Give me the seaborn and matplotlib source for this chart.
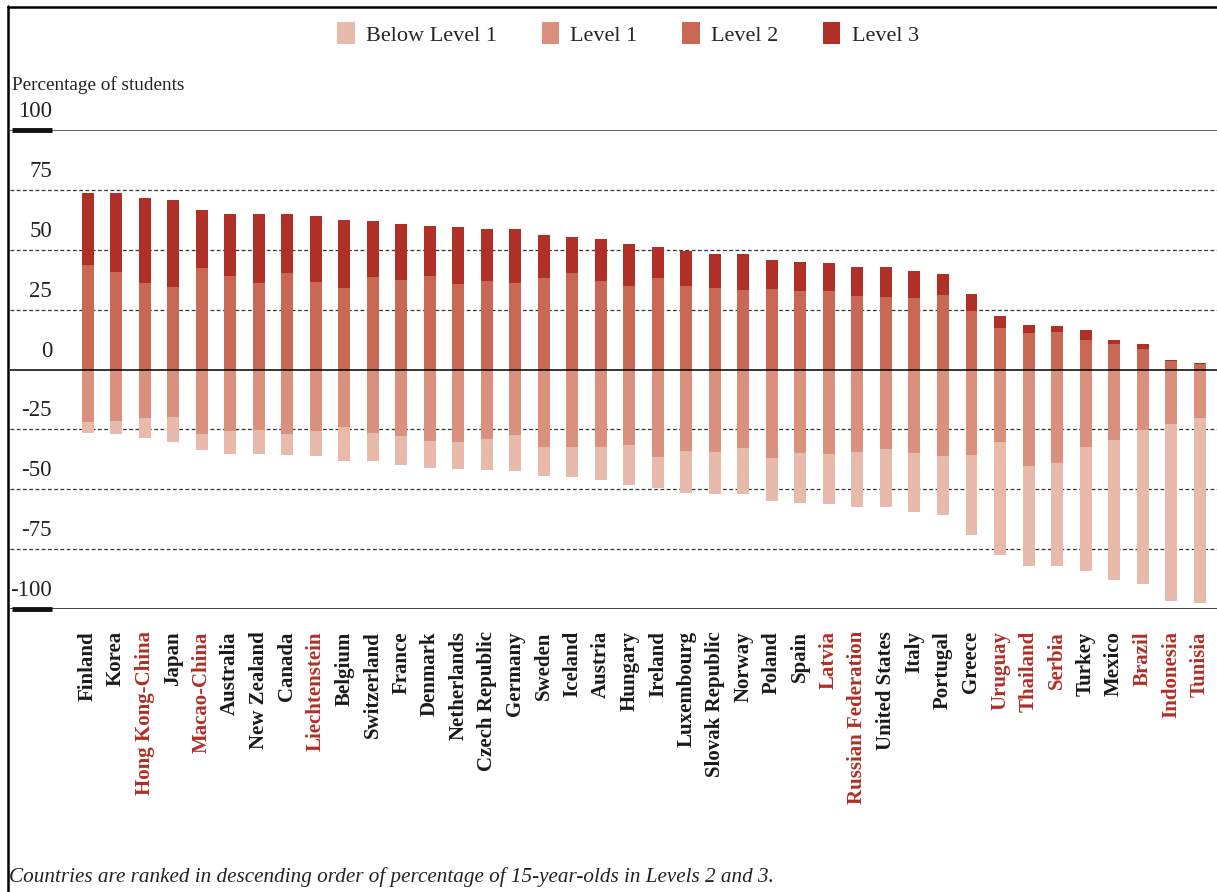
import numpy as np
import pandas as pd
import matplotlib
matplotlib.use("Agg")
import matplotlib.pyplot as plt
from matplotlib.patches import Patch
from matplotlib.lines import Line2D
import matplotlib.transforms as mtransforms
import seaborn as sns

countries = ["Finland", "Korea", "Hong Kong-China", "Japan", "Macao-China", "Australia",
             "New Zealand", "Canada", "Liechtenstein", "Belgium", "Switzerland", "France",
             "Denmark", "Netherlands", "Czech Republic", "Germany", "Sweden", "Iceland",
             "Austria", "Hungary", "Ireland", "Luxembourg", "Slovak Republic", "Norway",
             "Poland", "Spain", "Latvia", "Russian Federation", "United States", "Italy",
             "Portugal", "Greece", "Uruguay", "Thailand", "Serbia", "Turkey", "Mexico",
             "Brazil", "Indonesia", "Tunisia"]
partners = ["Hong Kong-China", "Macao-China", "Liechtenstein", "Latvia", "Russian Federation",
            "Uruguay", "Thailand", "Serbia", "Brazil", "Indonesia", "Tunisia"]

# percentages
level3 = [30.2, 33.2, 35.5, 36.0, 24.3, 26.1, 28.9, 24.9, 27.5, 28.6, 23.5, 23.2,
          20.9, 23.5, 21.5, 22.4, 18.1, 15.1, 17.8, 17.2, 12.8, 14.7, 14.3, 15.1,
          12.3, 12.1, 12.0, 12.2, 12.6, 11.1, 8.7, 7.4, 5.0, 3.2, 2.4, 4.3, 1.8,
          2.0, 0.3, 0.6]
level2 = [43.5, 40.6, 36.2, 34.6, 42.2, 38.9, 36.1, 40.1, 36.7, 33.9, 38.6, 37.4,
          39.0, 35.8, 37.1, 36.2, 38.2, 40.3, 36.8, 35.0, 38.2, 34.7, 33.9, 33.1,
          33.5, 32.6, 32.6, 30.7, 30.3, 29.9, 31.0, 24.3, 17.5, 15.4, 15.8, 12.2, 10.7,
          8.6, 3.5, 2.3]
level1 = [21.8, 21.4, 20.1, 19.7, 27.1, 25.8, 25.1, 26.9, 25.8, 24.0, 26.5, 27.8,
          29.9, 30.3, 29.0, 27.4, 32.2, 32.2, 32.2, 31.4, 36.5, 33.9, 34.3, 32.6,
          36.9, 35.0, 35.3, 34.3, 33.3, 34.7, 36.1, 35.7, 30.3, 40.1, 39.0, 32.2, 29.4,
          25.3, 22.6, 20.1]
below1 = [4.6, 5.4, 8.4, 10.4, 6.7, 9.5, 10.2, 8.8, 10.3, 14.1, 11.6, 11.9,
          11.1, 11.1, 12.8, 14.8, 12.4, 12.7, 13.9, 16.7, 12.8, 17.5, 17.8, 19.5,
          18.0, 20.7, 20.8, 23.1, 24.1, 25.0, 24.5, 33.2, 47.3, 42.1, 43.2, 52.0, 58.7,
          64.4, 73.9, 77.5]

df = pd.DataFrame({"country": countries, "l3": level3, "l2": level2,
                   "l1": level1, "b1": below1})
df["top"] = df["l2"] + df["l3"]
df["bottom"] = -(df["l1"] + df["b1"])
df["l1neg"] = -df["l1"]

colors = {"Below Level 1": "#E8BAAB", "Level 1": "#D9917D",
          "Level 2": "#C86855", "Level 3": "#B02F26"}
red_text = "#B02F26"

sns.set_style("white")
plt.rcParams["font.family"] = ["Liberation Serif", "DejaVu Serif"]

fig = plt.figure(figsize=(12.17, 8.92), dpi=100)
ax = fig.add_axes([10 / 1217, 1 - 609 / 892, 1207 / 1217, 479 / 892])

bw = 0.42
layers = [("top", "Level 3"), ("l2", "Level 2"), ("bottom", "Below Level 1"), ("l1neg", "Level 1")]
for col, lev in layers:
    sns.barplot(data=df, x="country", y=col, color=colors[lev], width=bw,
                saturation=1, order=countries, ax=ax, zorder=3,
                linewidth=0, edgecolor="none")

ax.set_xlim(-2.72, 39.61)
ax.set_ylim(-100, 100)
ax.set_xlabel("")
ax.set_ylabel("")
ax.set_yticks([])
for s in ax.spines.values():
    s.set_visible(False)

# grid lines
for v in [75, 50, 25, -25, -50, -75]:
    ax.axhline(v, color="#333333", lw=0.9, ls=(0, (3, 2)), zorder=1)
ax.axhline(0, color="black", lw=1.1, zorder=4)
ax.axhline(100, color="#444444", lw=1.2, zorder=1)
ax.axhline(-100, color="#222222", lw=1.2, zorder=1)

trans = mtransforms.blended_transform_factory(ax.transAxes, ax.transData)
for v in [100, -100]:
    ax.plot([2 / 1207, 42 / 1207], [v, v], color="#111111", lw=3.5,
            transform=trans, solid_capstyle="butt", clip_on=False, zorder=5)
for v in [100, 75, 50, 25, 0, -25, -50, -75, -100]:
    ax.text(42 / 1207, v + 3.3, str(v), transform=trans, ha="right", va="bottom",
            fontsize=16.5, color="#222222")

# country labels
ax.tick_params(axis="x", length=0, pad=16)
ax.set_xticks(range(len(countries)))
ax.set_xticklabels(countries, rotation=90, fontsize=15, fontweight="bold",
                   ha="center", va="top")
for lab in ax.get_xticklabels():
    lab.set_color(red_text if lab.get_text() in partners else "#1a1a1a")

# legend
handles = [Patch(facecolor=c, edgecolor="none", label=k) for k, c in colors.items()]
fig.legend(handles=handles, loc="center", bbox_to_anchor=(0.516, 0.962), ncol=4,
           frameon=False, fontsize=16, handlelength=0.8, handleheight=1.1,
           handletextpad=0.5, columnspacing=2.0)

fig.text(12 / 1217, 1 - 85 / 892, "Percentage of students", fontsize=13.8,
         va="center", ha="left", color="#222222")
fig.text(9 / 1217, 1 - 877 / 892,
         "Countries are ranked in descending order of percentage of 15-year-olds in Levels 2 and 3.",
         fontsize=15.2, style="italic", va="center", ha="left", color="#222222")

# page frame
fig.add_artist(Line2D([7.5 / 1217, 7.5 / 1217], [0, 1 - 6 / 892], color="black",
                      lw=1.8, transform=fig.transFigure))
fig.add_artist(Line2D([7.5 / 1217, 1], [1 - 6.5 / 892, 1 - 6.5 / 892], color="black",
                      lw=1.8, transform=fig.transFigure))

fig.savefig("out.png", dpi=100)
